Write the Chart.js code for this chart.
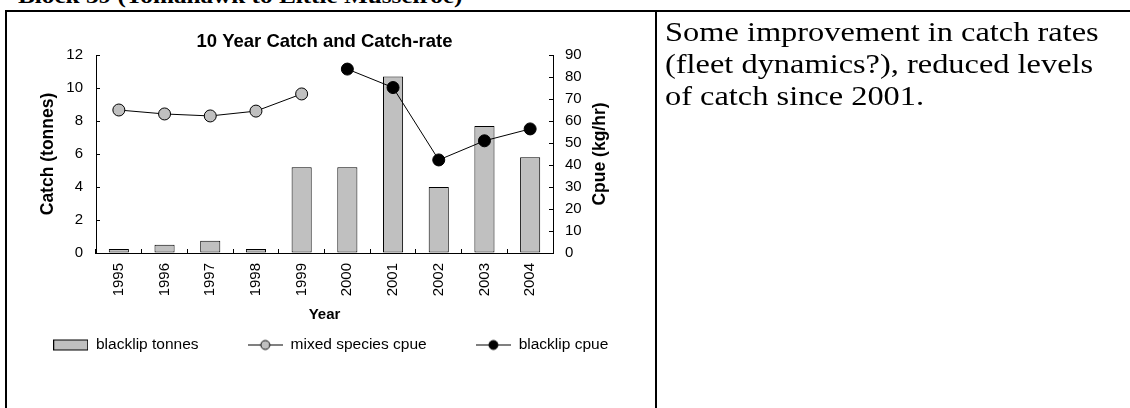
<!DOCTYPE html>
<html>
<head>
<meta charset="utf-8">
<title>10 Year Catch and Catch-rate</title>
<script src="https://cdn.jsdelivr.net/npm/chart.js@4.4.1/dist/chart.umd.min.js"></script>
<style>
  html, body { margin: 0; padding: 0; background: #fff; overflow: hidden; width: 1130px; height: 408px; }
  /* the document text in the source is set a little wide */
  .wide { transform: scaleX(1.2); transform-origin: 0 0; white-space: nowrap; color: #000; }
  #heading { position: absolute; left: 18px; top: -14px; font: bold 21px/21px "Liberation Serif", "Times New Roman", serif; }
  .rule { position: absolute; background: #000; }
  #topRule { left: 5px; top: 10px; right: 0; height: 2px; }
  #leftRule { left: 5px; top: 10px; bottom: 0; width: 2px; }
  #midRule { left: 655px; top: 10px; bottom: 0; width: 2px; }
  #note { position: absolute; left: 665px; top: 16px; font: 27px/32px "Liberation Serif", "Times New Roman", serif; }
  /* canvas runs a bit past the cell so the legend keeps one row; nothing is drawn there */
  #chartBox { position: absolute; left: 4px; top: 12px; width: 670px; height: 396px; }
</style>
</head>
<body>
<div id="chartBox"><canvas id="catchChart"></canvas></div>
<div id="heading" class="wide">Block 39 (Tomahawk to Little Musselroe)</div>
<div class="rule" id="topRule"></div>
<div class="rule" id="leftRule"></div>
<div class="rule" id="midRule"></div>
<div id="note" class="wide">Some improvement in catch rates<br>(fleet dynamics?), reduced levels<br>of catch since 2001.</div>
<script>
// Data
const years = ['1995', '1996', '1997', '1998', '1999', '2000', '2001', '2002', '2003', '2004'];
const blacklipTonnes = [0.25, 0.5, 0.75, 0.25, 5.2, 5.2, 10.7, 4.0, 7.7, 5.8];
const mixedCpue = [65, 63.2, 62.3, 64.5, 72.3, null, null, null, null, null];
const blacklipCpue = [null, null, null, null, null, 83.6, 75.2, 42.3, 51, 56.4];
const catchTicks = [0, 2, 4, 6, 8, 10, 12];
const cpueTicks = [0, 10, 20, 30, 40, 50, 60, 70, 80, 90];
const seriesNames = ['blacklip tonnes', 'mixed species cpue', 'blacklip cpue'];

Chart.defaults.font.family = '"Liberation Sans", Arial, sans-serif';
Chart.defaults.color = '#000';

// small legend pictures (box, line with marker)
function makeIcon(draw) {
    const c = document.createElement('canvas');
    c.width = 35; c.height = 13;
    draw(c.getContext('2d'));
    return c;
}

const barIcon = makeIcon(g => {
    g.fillStyle = '#C0C0C0';
    g.fillRect(0.5, 1.5, 34, 10);
    g.strokeStyle = '#000';
    g.lineWidth = 1;
    g.strokeRect(0.5, 1.5, 34, 10);
});

function lineIcon(fill) {
    return makeIcon(g => {
        g.strokeStyle = '#000';
        g.lineWidth = 1;
        g.beginPath();
        g.moveTo(0, 6.5);
        g.lineTo(35, 6.5);
        g.stroke();
        g.beginPath();
        g.arc(17.5, 6.5, 4.5, 0, 2 * Math.PI);
        g.fillStyle = fill;
        g.fill();
        g.stroke();
    });
}

const legendIcons = [barIcon, lineIcon('#C0C0C0'), lineIcon('#000')];

// right axis title reads bottom to top, Chart.js would turn it the other way
const rightTitle = {
    id: 'rightTitle',
    afterDraw(chart) {
        const {ctx, chartArea} = chart;
        ctx.save();
        ctx.translate(chartArea.right + 47, (chartArea.top + chartArea.bottom) / 2);
        ctx.rotate(-Math.PI / 2);
        ctx.font = 'bold 17.5px "Liberation Sans", Arial, sans-serif';
        ctx.fillStyle = '#000';
        ctx.textAlign = 'center';
        ctx.textBaseline = 'middle';
        ctx.fillText('Cpue (kg/hr)', 0, 0);
        ctx.restore();
    }
};

// the wide label padding also pushes the legend row down, pull it back up
const legendNudge = {
    id: 'legendNudge',
    afterLayout(chart) {
        chart.legend.top -= 10;
        chart.legend.bottom -= 10;
    }
};

const ctx = document.getElementById('catchChart').getContext('2d');
new Chart(ctx, {
    type: 'bar',
    data: {
        labels: years,
        datasets: [{
            label: seriesNames[0],
            data: blacklipTonnes,
            yAxisID: 'catch',
            backgroundColor: '#C0C0C0',
            borderColor: '#000',
            borderWidth: 1,
            borderSkipped: false,
            barPercentage: 0.44,
            categoryPercentage: 1,
            order: 2
        }, {
            type: 'line',
            label: seriesNames[1],
            data: mixedCpue,
            yAxisID: 'cpue',
            borderColor: '#000',
            borderWidth: 1,
            pointRadius: 6,
            pointBorderWidth: 1,
            pointBorderColor: '#000',
            pointBackgroundColor: '#C0C0C0',
            tension: 0,
            order: 1
        }, {
            type: 'line',
            label: seriesNames[2],
            data: blacklipCpue,
            yAxisID: 'cpue',
            borderColor: '#000',
            borderWidth: 1,
            pointRadius: 6,
            pointBorderWidth: 1,
            pointBorderColor: '#000',
            pointBackgroundColor: '#000',
            tension: 0,
            order: 1
        }]
    },
    options: {
        responsive: true,
        maintainAspectRatio: false,
        animation: false,
        events: [],
        layout: {
            padding: { left: 0, right: 0, top: 0, bottom: 35.25 }
        },
        plugins: {
            title: {
                display: true,
                text: '10 Year Catch and Catch-rate',
                fullSize: false,
                font: { size: 18.5, weight: 'bold' },
                padding: { top: 18.6, bottom: 2.2 }
            },
            legend: {
                position: 'bottom',
                align: 'start',
                labels: {
                    usePointStyle: true,
                    pointStyleWidth: 35,
                    padding: 49.25,
                    font: { size: 15.5 },
                    generateLabels: () => seriesNames.map((name, i) => ({
                        text: name,
                        pointStyle: legendIcons[i],
                        fillStyle: '#fff',
                        strokeStyle: '#000',
                        lineWidth: 0,
                        hidden: false,
                        datasetIndex: i,
                        fontColor: '#000'
                    }))
                }
            },
            tooltip: { enabled: false }
        },
        scales: {
            x: {
                grid: { drawOnChartArea: false, tickLength: -4, color: '#000' },
                border: { color: '#000' },
                ticks: { minRotation: 90, maxRotation: 90, autoSkip: false, padding: 14, font: { size: 15 } },
                title: {
                    display: true,
                    text: 'Year',
                    font: { size: 15, weight: 'bold' },
                    padding: { top: 0, bottom: -26 }
                },
                afterFit: s => { s.height = 45; }
            },
            catch: {
                position: 'left',
                min: catchTicks[0],
                max: catchTicks[catchTicks.length - 1],
                grid: { drawOnChartArea: false, tickLength: -4, color: '#000' },
                border: { color: '#000' },
                ticks: { stepSize: catchTicks[1] - catchTicks[0], padding: 17, font: { size: 15 } },
                title: {
                    display: true,
                    text: 'Catch (tonnes)',
                    font: { size: 17.5, weight: 'bold' },
                    padding: { top: 33.5, bottom: 0 }
                },
                afterFit: s => { s.width = 92; }
            },
            cpue: {
                position: 'right',
                min: cpueTicks[0],
                max: cpueTicks[cpueTicks.length - 1],
                grid: { drawOnChartArea: false, tickLength: -4, color: '#000' },
                border: { color: '#000' },
                ticks: { stepSize: cpueTicks[1] - cpueTicks[0], padding: 16, font: { size: 15 } },
                afterFit: s => { s.width = 121; }
            }
        }
    },
    plugins: [rightTitle, legendNudge]
});
</script>
</body>
</html>
